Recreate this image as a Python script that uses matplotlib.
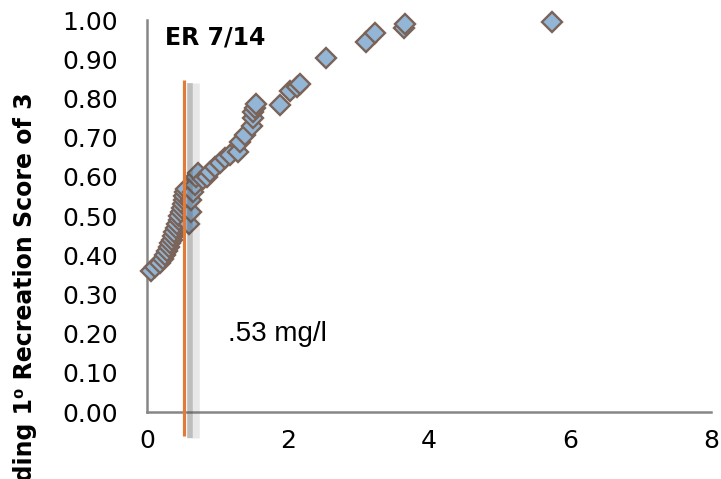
import numpy as np
import matplotlib
matplotlib.use("Agg")
import matplotlib.pyplot as plt
import matplotlib.patheffects as pe

# concentration (mg/l) vs. proportion exceeding score
conc = [0.05, 0.12, 0.18, 0.22, 0.26, 0.29, 0.31, 0.33, 0.35, 0.37,
        0.39, 0.41, 0.43, 0.45, 0.46, 0.48, 0.50, 0.51, 0.52, 0.53,
        0.54, 0.55,
        0.60, 0.62, 0.63, 0.65, 0.68, 0.70, 0.72,
        0.80, 0.85, 0.90, 0.97, 1.04, 1.10, 1.18, 1.29, 1.32, 1.39,
        1.49, 1.51, 1.50, 1.53, 1.55, 1.89, 2.03, 2.13, 2.17, 2.54,
        3.10, 3.24, 3.64, 3.66, 5.75]
prop = [0.36, 0.37, 0.38, 0.39, 0.40, 0.41, 0.42, 0.43, 0.44, 0.45,
        0.46, 0.47, 0.48, 0.49, 0.50, 0.51, 0.52, 0.53, 0.54, 0.55,
        0.56, 0.57,
        0.48, 0.51, 0.54, 0.56, 0.58, 0.60, 0.61,
        0.595, 0.60, 0.612, 0.625, 0.635, 0.648, 0.656, 0.663, 0.69, 0.707,
        0.73, 0.75, 0.765, 0.775, 0.786, 0.783, 0.82, 0.83, 0.836, 0.903,
        0.944, 0.967, 0.98, 0.99, 0.995]

threshold = 0.53
xticks = [0, 2, 4, 6, 8]
yticks = np.round(np.arange(0, 1.01, 0.1), 2)

fig = plt.figure(figsize=(7.21, 4.79), dpi=100)
ax = fig.add_axes([147/721, 1-412/479, 564/721, 392/479])

ax.plot(conc, prop, ls='none', marker='D', ms=10, mfc='#93B6D7', mec='#7A6358',
        mew=1.7, zorder=3, clip_on=False)

# threshold line with a soft shadow
ax.plot([threshold, threshold], [-0.06, 0.847], color='#E07B39', lw=2.3,
        zorder=5, clip_on=False, solid_capstyle='butt',
        path_effects=[pe.SimpleLineShadow(offset=(6, -2), shadow_color='#666666',
                                          alpha=0.15, linewidth=9),
                      pe.SimpleLineShadow(offset=(4, -2), shadow_color='#444444',
                                          alpha=0.25, linewidth=4),
                      pe.Normal()])

ax.set_xlim(0, 8)
ax.set_ylim(0, 1.0)
ax.set_xticks(xticks)
ax.set_yticks(yticks)
ax.set_yticklabels(['%.2f' % v for v in yticks])
ax.tick_params(length=0, labelsize=18)
ax.tick_params(axis='y', pad=21)
ax.tick_params(axis='x', pad=12)

for s in ['top', 'right']:
    ax.spines[s].set_visible(False)
for s in ['left', 'bottom']:
    ax.spines[s].set_color('#868686')
    ax.spines[s].set_linewidth(1.8)

ax.text(0.25, 0.985, 'ER 7/14', fontsize=17, fontweight='bold',
        va='top', ha='left')
ax.text(1.15, 0.20, '.53 mg/l', fontsize=20, family='Liberation Sans',
        va='center', ha='left')

fig.text(25/721, 1-92/479, 'Probability of Exceeding 1\u2070 Recreation Score of 3',
         rotation=90, va='top', ha='center', fontsize=17, fontweight='bold')

fig.savefig('out.png', dpi=100)
